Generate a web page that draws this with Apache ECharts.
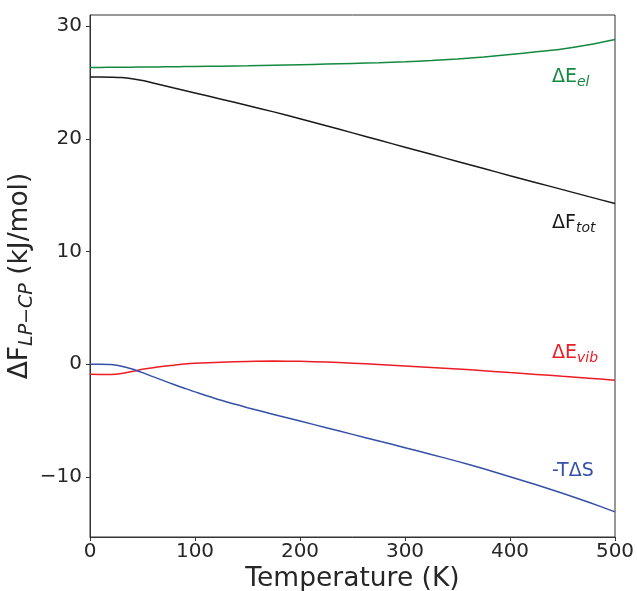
<!DOCTYPE html>
<html>
<head>
<meta charset="utf-8">
<script src="https://cdn.jsdelivr.net/npm/echarts@6/dist/echarts.min.js"></script>
<style>
html,body{margin:0;padding:0;background:#fff;}
#chart{width:637px;height:591px;}
</style>
</head>
<body>
<div id="chart"></div>
<script>
// Temperature (K)
var temps = [0,10,20,30,40,50,60,70,80,90,100,125,150,175,200,225,250,275,300,325,350,375,400,425,450,475,500];
// ΔE_el
var dEel = [26.35,26.35,26.36,26.37,26.37,26.38,26.39,26.40,26.41,26.42,26.43,26.46,26.50,26.55,26.59,26.64,26.70,26.77,26.85,26.96,27.10,27.28,27.50,27.73,27.98,28.35,28.83];
// ΔF_tot
var dFtot = [25.49,25.49,25.48,25.45,25.35,25.18,24.97,24.75,24.52,24.30,24.08,23.53,22.97,22.40,21.80,21.17,20.54,19.90,19.27,18.64,18.00,17.37,16.74,16.12,15.50,14.88,14.27];
// ΔE_vib
var dEvib = [-0.89,-0.90,-0.90,-0.82,-0.64,-0.45,-0.30,-0.18,-0.08,0.02,0.09,0.18,0.25,0.28,0.26,0.20,0.10,-0.02,-0.15,-0.28,-0.42,-0.57,-0.74,-0.90,-1.07,-1.24,-1.42];
// -TΔS
var mTdS = [0,0,-0.02,-0.18,-0.42,-0.74,-1.10,-1.45,-1.80,-2.13,-2.45,-3.20,-3.85,-4.45,-5.04,-5.63,-6.22,-6.81,-7.40,-8.00,-8.62,-9.28,-9.98,-10.70,-11.45,-12.25,-13.10];
var xTicks = [0,100,200,300,400,500];
var yTicks = [-10,0,10,20,30];

var FONT = 'DejaVu Sans';
var C_GREEN = '#138a3e', C_BLACK = '#1a1a1a', C_RED = '#ec1c24', C_BLUE = '#3550a8';

function pairs(ys){ return temps.map(function(t,i){ return [t, ys[i]]; }); }
function line(name, ys, color){
  return {name:name, type:'line', data:pairs(ys), showSymbol:false, smooth:0.3,
    lineStyle:{color:color, width:1.5}, itemStyle:{color:color}, animation:false, z:3};
}
function lbl(main, sub, color, left, top){
  return {type:'text', left:left, top:top, z:10,
    style:{text:'{m|'+main+'}{s|'+sub+'}', fill:color,
      rich:{m:{fontSize:19, fontFamily:FONT, fill:color, color:color},
            s:{fontSize:14, fontStyle:'italic', fontFamily:FONT, fill:color, color:color, padding:[10,0,0,0]}}}};
}
function lblPlain(text, color, left, top){
  return {type:'text', left:left, top:top, z:10,
    style:{text:text, fill:color, fontSize:19, fontFamily:FONT}};
}

var chart = echarts.init(document.getElementById('chart'), null, {renderer:'canvas'});
chart.setOption({
  animation:false,
  backgroundColor:'#fff',
  grid:{left:90, right:22, top:15, bottom:54, outerBoundsMode:'none', containLabel:false,
    show:true, borderColor:'#333', borderWidth:1, backgroundColor:'transparent'},
  xAxis:{type:'value', min:0, max:500, interval:100,
    name:'Temperature (K)', nameLocation:'middle', nameGap:29, nameMoveOverlap:false,
    nameTextStyle:{fontSize:26.5, fontFamily:FONT, color:'#262626'},
    axisLine:{show:true, onZero:false, lineStyle:{color:'#333', width:1}},
    axisTick:{show:true, length:4, lineStyle:{color:'#333'}},
    axisLabel:{fontSize:20, fontFamily:FONT, color:'#262626', margin:5},
    splitLine:{show:false}},
  yAxis:{type:'value', min:-15.33, max:31.0,
    name:'{m|ΔF}{s|LP\u2212CP}{m| (kJ/mol)}', nameLocation:'middle', nameGap:53, nameRotate:90,
    nameMoveOverlap:false,
    nameTextStyle:{fontSize:26.5, fontFamily:FONT, color:'#262626',
      rich:{m:{fontSize:26.5, fontFamily:FONT, color:'#262626'},
            s:{fontSize:19, fontStyle:'italic', fontFamily:FONT, color:'#262626', padding:[14,0,0,0]}}},
    axisLine:{show:true, onZero:false, lineStyle:{color:'#333', width:1}},
    axisTick:{show:true, length:4, customValues:yTicks, lineStyle:{color:'#333'}},
    axisLabel:{fontSize:20, fontFamily:FONT, color:'#262626', margin:8, customValues:yTicks,
      formatter:function(v){ return v < 0 ? '\u2212' + Math.abs(v) : String(v); }},
    splitLine:{show:false}},
  series:[
    line('ΔE_el', dEel, C_GREEN),
    line('ΔF_tot', dFtot, C_BLACK),
    line('ΔE_vib', dEvib, C_RED),
    line('-TΔS', mTdS, C_BLUE)
  ],
  graphic:[
    lbl('ΔE','el', C_GREEN, 552, 68),
    lbl('ΔF','tot', C_BLACK, 552, 214),
    lbl('ΔE','vib', C_RED, 552, 344),
    lblPlain('-TΔS', C_BLUE, 552, 462)
  ]
});
</script>
</body>
</html>
